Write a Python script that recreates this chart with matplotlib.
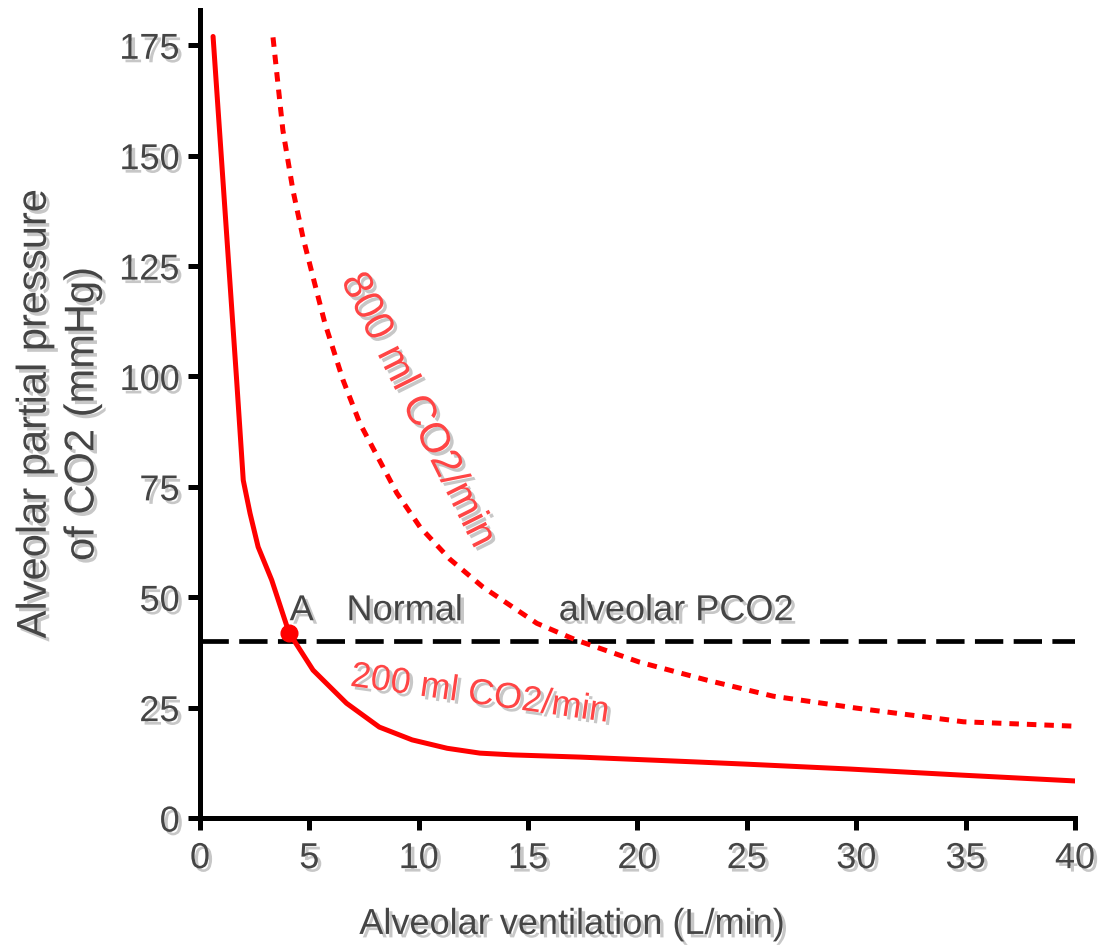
import matplotlib
matplotlib.use("Agg")
from matplotlib import pyplot as plt
from matplotlib import patheffects as pe

plt.rcParams['font.family'] = ['Liberation Sans', 'DejaVu Sans']

# solid curve, 200 ml CO2/min
vent_200 = [0.6, 1.68, 1.98, 2.29, 2.66, 3.28, 4.07, 5.17, 6.7, 8.2, 9.7, 11.3, 12.8, 14.3, 17.4, 22.7, 25.0, 29.7, 34.9, 40.0]
pco2_200 = [177, 99, 76.5, 69, 61.4, 53.9, 42, 33.5, 26.0, 20.6, 17.7, 15.8, 14.7, 14.3, 13.8, 12.7, 12.2, 11.1, 9.7, 8.4]

# dotted curve, 800 ml CO2/min
vent_800 = [3.34, 3.79, 4.25, 4.71, 5.17, 5.71, 6.54, 7.31, 9.0, 10.06, 11.43, 12.94, 15.4, 17.2, 20.1, 23.2, 26.2, 30.0, 34.9, 40.0]
pco2_800 = [176.8, 155.8, 142.2, 131.5, 122.5, 112.1, 99.2, 89.4, 73.6, 65.9, 58.6, 52.3, 44.1, 40.3, 35.3, 31.2, 27.6, 24.9, 21.8, 20.8]

normal_pco2 = 40
point_a = (4.07, 42)

xticks = [0, 5, 10, 15, 20, 25, 30, 35, 40]
yticks = [0, 25, 50, 75, 100, 125, 150, 175]

gray = '#454545'
red_txt = '#ff4545'
shadow = [pe.SimplePatchShadow(offset=(2.5, -2.5), shadow_rgbFace='#999999', alpha=0.55), pe.Normal()]
fs = 26

fig = plt.figure(figsize=(11.17, 9.5), dpi=100)
ax = fig.add_axes([0.179, 0.1389, 0.7834, 0.8506])

ax.plot(vent_200, pco2_200, color='red', lw=3.6, solid_capstyle='round', solid_joinstyle='round', zorder=3)
ax.plot(vent_800, pco2_800, color='red', lw=3.6, linestyle=(0, (1.9, 1.6)), zorder=3)
ax.plot([0, 40], [normal_pco2, normal_pco2], color='black', lw=3.4, linestyle=(0, (6, 2.2)), zorder=2)
ax.plot([point_a[0]], [point_a[1]], 'o', color='red', ms=12, zorder=4)

ax.text(4.1, 44.8, 'A', fontsize=fs, color=gray, path_effects=shadow)
ax.text(6.7, 44.8, 'Normal', fontsize=fs, color=gray, path_effects=shadow)
ax.text(16.4, 44.8, 'alveolar PCO2', fontsize=fs, color=gray, path_effects=shadow)
ax.text(12.8, 28.0, '200 ml CO2/min', fontsize=fs, color=red_txt, rotation=-8,
        ha='center', va='center', rotation_mode='anchor', path_effects=shadow)
ax.text(9.95, 92.4, '800 ml CO2/min', fontsize=30, color=red_txt, rotation=-63.5,
        ha='center', va='center', rotation_mode='anchor', path_effects=shadow)

ax.set_xlim(0, 40)
ax.set_ylim(0, 183)
ax.set_xticks(xticks)
ax.set_yticks(yticks)
ax.spines['top'].set_visible(False)
ax.spines['right'].set_visible(False)
ax.spines['left'].set_linewidth(3.6)
ax.spines['bottom'].set_linewidth(3.6)
ax.tick_params(width=3.6, length=8.6, labelsize=fs, labelcolor=gray)
ax.tick_params(axis='y', pad=6)
ax.tick_params(axis='x', pad=8)
for lab in ax.get_xticklabels() + ax.get_yticklabels():
    lab.set_path_effects(shadow)

ax.set_xlabel('Alveolar ventilation (L/min)', fontsize=fs, color=gray, path_effects=shadow)
ax.xaxis.set_label_coords(0.425, -0.11)
ax.set_ylabel('Alveolar partial pressure\nof CO2 (mmHg)', fontsize=30, color=gray, labelpad=12,
              linespacing=1.25, path_effects=shadow)

fig.savefig('out.png', dpi=100)
